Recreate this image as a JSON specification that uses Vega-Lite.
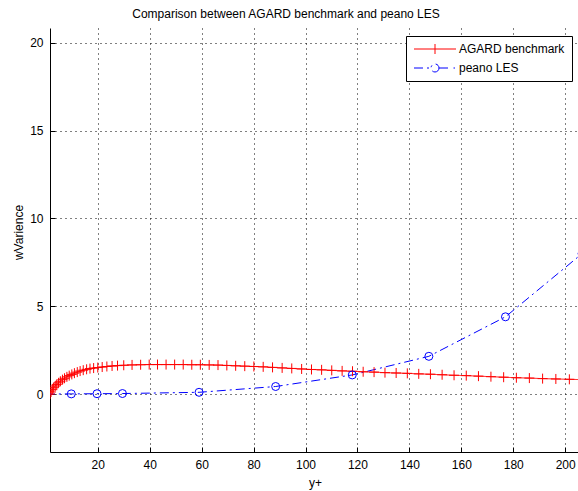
{
  "$schema": "https://vega.github.io/schema/vega-lite/v6.json",
  "width": 530,
  "height": 424,
  "autosize": {"type": "none"},
  "padding": {"left": 50, "top": 28, "right": 0, "bottom": 39},
  "background": "white",
  "title": {"text": "Comparison between AGARD benchmark and peano LES", "font": "Liberation Sans", "fontSize": 12, "fontWeight": "normal", "color": "black", "offset": 7, "dx": -29},
  "config": {
    "view": {"stroke": null},
    "font": "Liberation Sans",
    "axis": {
      "domainColor": "black", "domainWidth": 1,
      "tickColor": "black", "tickSize": -5, "tickWidth": 1,
      "labelPadding": 12, "labelColor": "black", "labelFont": "Liberation Sans", "labelFontSize": 12,
      "titleFont": "Liberation Sans", "titleFontSize": 12, "titleFontWeight": "normal", "titleColor": "black",
      "gridColor": "black", "gridDash": [1, 4], "gridOpacity": 1, "gridWidth": 1
    }
  },
  "data": {"values": [
    {"s": "AGARD benchmark", "yp": 1.6, "w": 0.0},
    {"s": "AGARD benchmark", "yp": 2.0, "w": 0.12},
    {"s": "AGARD benchmark", "yp": 2.5, "w": 0.25},
    {"s": "AGARD benchmark", "yp": 3.0, "w": 0.36},
    {"s": "AGARD benchmark", "yp": 3.6, "w": 0.46},
    {"s": "AGARD benchmark", "yp": 4.2, "w": 0.55},
    {"s": "AGARD benchmark", "yp": 4.9, "w": 0.64},
    {"s": "AGARD benchmark", "yp": 5.6, "w": 0.73},
    {"s": "AGARD benchmark", "yp": 6.4, "w": 0.82},
    {"s": "AGARD benchmark", "yp": 7.2, "w": 0.9},
    {"s": "AGARD benchmark", "yp": 8.1, "w": 0.98},
    {"s": "AGARD benchmark", "yp": 9.0, "w": 1.05},
    {"s": "AGARD benchmark", "yp": 10.0, "w": 1.12},
    {"s": "AGARD benchmark", "yp": 11.0, "w": 1.19},
    {"s": "AGARD benchmark", "yp": 12.1, "w": 1.25},
    {"s": "AGARD benchmark", "yp": 13.2, "w": 1.31},
    {"s": "AGARD benchmark", "yp": 14.4, "w": 1.36},
    {"s": "AGARD benchmark", "yp": 15.7, "w": 1.41},
    {"s": "AGARD benchmark", "yp": 17.0, "w": 1.45},
    {"s": "AGARD benchmark", "yp": 18.4, "w": 1.48},
    {"s": "AGARD benchmark", "yp": 20.0, "w": 1.51},
    {"s": "AGARD benchmark", "yp": 21.7, "w": 1.54},
    {"s": "AGARD benchmark", "yp": 23.5, "w": 1.57},
    {"s": "AGARD benchmark", "yp": 25.5, "w": 1.6},
    {"s": "AGARD benchmark", "yp": 27.6, "w": 1.62},
    {"s": "AGARD benchmark", "yp": 30.0, "w": 1.64},
    {"s": "AGARD benchmark", "yp": 33.2, "w": 1.66},
    {"s": "AGARD benchmark", "yp": 36.5, "w": 1.67},
    {"s": "AGARD benchmark", "yp": 39.8, "w": 1.68},
    {"s": "AGARD benchmark", "yp": 43.0, "w": 1.68},
    {"s": "AGARD benchmark", "yp": 46.3, "w": 1.68},
    {"s": "AGARD benchmark", "yp": 49.6, "w": 1.68},
    {"s": "AGARD benchmark", "yp": 52.9, "w": 1.68},
    {"s": "AGARD benchmark", "yp": 56.2, "w": 1.67},
    {"s": "AGARD benchmark", "yp": 59.5, "w": 1.67},
    {"s": "AGARD benchmark", "yp": 62.9, "w": 1.66},
    {"s": "AGARD benchmark", "yp": 66.3, "w": 1.65},
    {"s": "AGARD benchmark", "yp": 69.7, "w": 1.63},
    {"s": "AGARD benchmark", "yp": 73.1, "w": 1.61},
    {"s": "AGARD benchmark", "yp": 76.6, "w": 1.59},
    {"s": "AGARD benchmark", "yp": 80.1, "w": 1.57},
    {"s": "AGARD benchmark", "yp": 83.7, "w": 1.55},
    {"s": "AGARD benchmark", "yp": 87.3, "w": 1.52},
    {"s": "AGARD benchmark", "yp": 91.0, "w": 1.49},
    {"s": "AGARD benchmark", "yp": 94.7, "w": 1.46},
    {"s": "AGARD benchmark", "yp": 98.5, "w": 1.43},
    {"s": "AGARD benchmark", "yp": 102.3, "w": 1.4},
    {"s": "AGARD benchmark", "yp": 106.2, "w": 1.38},
    {"s": "AGARD benchmark", "yp": 110.1, "w": 1.35},
    {"s": "AGARD benchmark", "yp": 114.1, "w": 1.32},
    {"s": "AGARD benchmark", "yp": 118.1, "w": 1.3},
    {"s": "AGARD benchmark", "yp": 122.2, "w": 1.27},
    {"s": "AGARD benchmark", "yp": 126.4, "w": 1.25},
    {"s": "AGARD benchmark", "yp": 130.6, "w": 1.22},
    {"s": "AGARD benchmark", "yp": 134.9, "w": 1.2},
    {"s": "AGARD benchmark", "yp": 139.2, "w": 1.18},
    {"s": "AGARD benchmark", "yp": 143.6, "w": 1.15},
    {"s": "AGARD benchmark", "yp": 148.1, "w": 1.13},
    {"s": "AGARD benchmark", "yp": 152.6, "w": 1.1},
    {"s": "AGARD benchmark", "yp": 157.2, "w": 1.07},
    {"s": "AGARD benchmark", "yp": 161.9, "w": 1.05},
    {"s": "AGARD benchmark", "yp": 166.6, "w": 1.02},
    {"s": "AGARD benchmark", "yp": 171.4, "w": 0.99},
    {"s": "AGARD benchmark", "yp": 176.3, "w": 0.96},
    {"s": "AGARD benchmark", "yp": 181.2, "w": 0.93},
    {"s": "AGARD benchmark", "yp": 186.2, "w": 0.91},
    {"s": "AGARD benchmark", "yp": 191.3, "w": 0.88},
    {"s": "AGARD benchmark", "yp": 196.4, "w": 0.86},
    {"s": "AGARD benchmark", "yp": 201.6, "w": 0.84},
    {"s": "AGARD benchmark", "yp": 206.9, "w": 0.82},
    {"s": "peano LES", "yp": 0.0, "w": 0.0},
    {"s": "peano LES", "yp": 9.8, "w": 0.01},
    {"s": "peano LES", "yp": 19.7, "w": 0.02},
    {"s": "peano LES", "yp": 29.5, "w": 0.03},
    {"s": "peano LES", "yp": 59.0, "w": 0.1},
    {"s": "peano LES", "yp": 88.5, "w": 0.43},
    {"s": "peano LES", "yp": 118.0, "w": 1.09},
    {"s": "peano LES", "yp": 147.5, "w": 2.15},
    {"s": "peano LES", "yp": 177.0, "w": 4.4},
    {"s": "peano LES", "yp": 206.5, "w": 8.0}
  ]},
  "encoding": {
    "x": {"field": "yp", "type": "quantitative", "title": "y+",
      "scale": {"domain": [1.6, 205.7], "nice": false, "zero": false},
      "axis": {"values": [20, 40, 60, 80, 100, 120, 140, 160, 180, 200], "titlePadding": 7}},
    "y": {"field": "w", "type": "quantitative", "title": "wVarience",
      "scale": {"domain": [-3.3, 20.85], "nice": false, "zero": false},
      "axis": {"values": [0, 5, 10, 15, 20], "titleX": -32, "titleY": 204, "titleBaseline": "middle"}}
  },
  "layer": [
    {
      "mark": {"type": "line", "strokeWidth": 1, "clip": true},
      "encoding": {
        "color": {"field": "s", "type": "nominal",
          "scale": {"domain": ["AGARD benchmark", "peano LES"], "range": ["#ff0000", "#0000ff"]},
          "legend": {
            "title": null, "orient": "none", "legendX": 356, "legendY": 8,
            "fillColor": "white", "strokeColor": "black", "padding": 7,
            "symbolSize": 100, "symbolStrokeWidth": 1, "symbolOffset": 16, "labelOffset": 18,
            "labelFont": "Liberation Sans", "labelFontSize": 12, "labelColor": "black", "rowPadding": 6,
            "encode": {"symbols": {"update": {
              "shape": {"signal": "datum.value === 'AGARD benchmark' ? 'M-4.2,0H4.2M0,-1V1' : 'M-4.2,0H-0.8M0.8,0H2.8M3.7,0H4.0M0.8,0A0.8,0.8 0 1 1 -0.8,0A0.8,0.8 0 1 1 0.8,0'"},
              "fill": {"value": "transparent"},
              "strokeDash": {"value": [1, 0]}
            }}}
          }},
        "strokeDash": {"field": "s", "type": "nominal",
          "scale": {"domain": ["AGARD benchmark", "peano LES"], "range": [[1, 0], [9, 4, 2, 4]]},
          "legend": null}
      }
    },
    {
      "transform": [{"filter": "datum.s === 'AGARD benchmark'"}],
      "mark": {"type": "point", "shape": "M-1,0H1M0,-1V1", "size": 100, "filled": false, "color": "#ff0000", "strokeWidth": 1, "opacity": 1, "clip": true}
    },
    {
      "transform": [{"filter": "datum.s === 'peano LES'"}],
      "mark": {"type": "point", "shape": "circle", "size": 64, "filled": false, "color": "#0000ff", "strokeWidth": 1, "opacity": 1, "clip": true}
    }
  ]
}
